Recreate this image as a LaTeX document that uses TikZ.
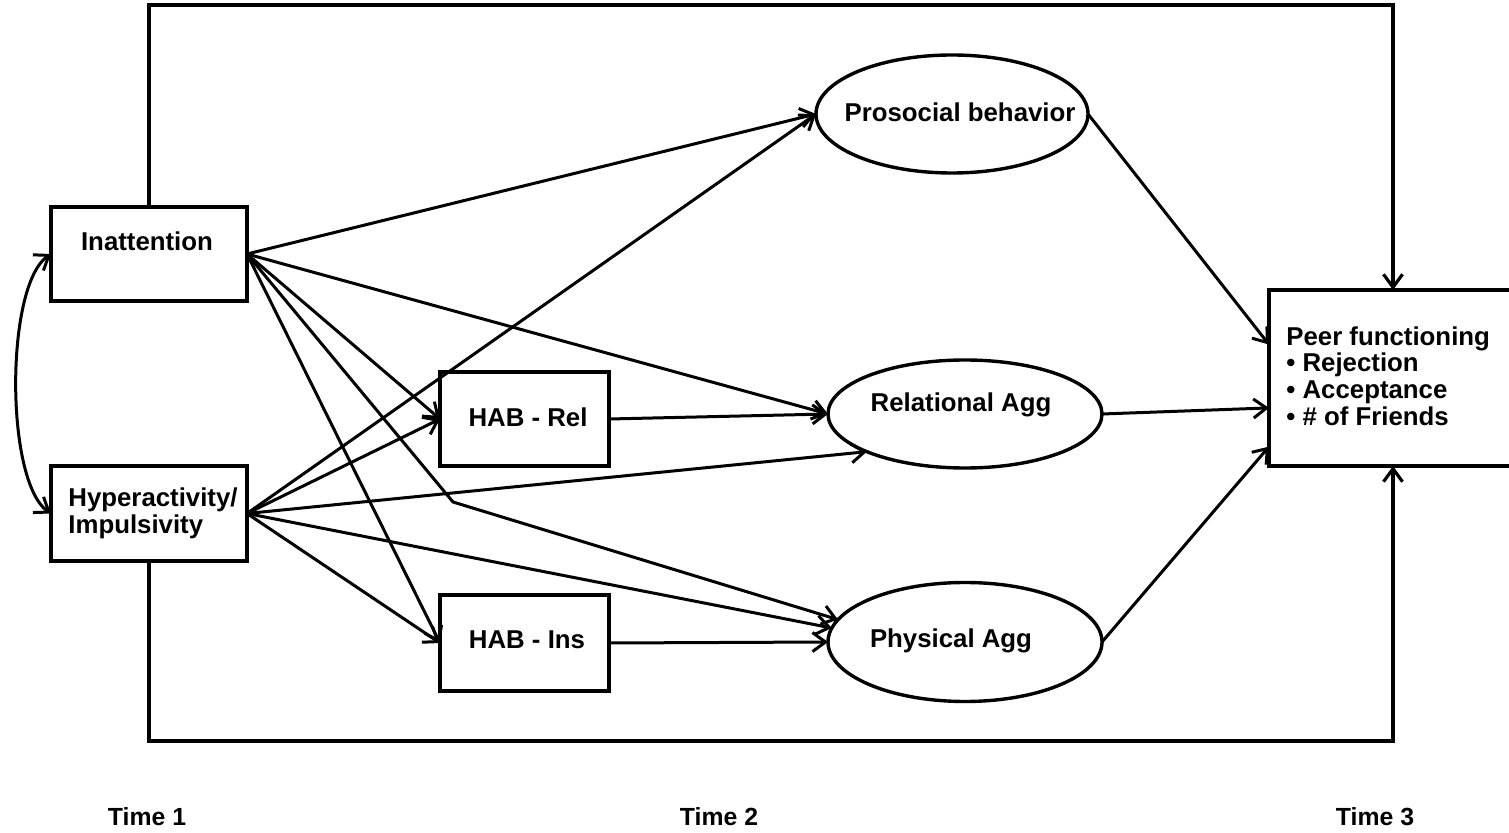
\documentclass[tikz,border=0pt]{standalone}
\usepackage{fontspec}
\setmainfont{Liberation Sans}
\usetikzlibrary{arrows.meta,shapes.geometric,calc}
\begin{document}
\begin{tikzpicture}[x=0.5pt,y=-0.5pt,
  box/.style={draw, line width=1.8pt, rectangle, inner sep=0pt, outer sep=0pt},
  ell/.style={draw, line width=1.7pt, ellipse, inner sep=0pt, outer sep=0pt},
  lbl/.style={font=\fontsize{12.9}{13.4}\selectfont\bfseries, inner sep=0pt},
  tlbl/.style={font=\fontsize{12.4}{13}\selectfont\bfseries, inner sep=0pt},
  arr/.style={line width=1.5pt, -{Straight Barb[length=6.5pt,width=9.5pt]}},
  dblarr/.style={line width=1.5pt, {Straight Barb[length=6.5pt,width=9.5pt]}-{Straight Barb[length=6.5pt,width=9.5pt]}},
  framearr/.style={line width=1.6pt, -{Straight Barb[length=6.5pt,width=9.5pt]}}]
\useasboundingbox (0,0) rectangle (1509,833);

% boxes
\node[box, minimum width=98pt, minimum height=47pt] (inatt) at (149,254) {};
\node[box, minimum width=98pt, minimum height=47.5pt] (hyp) at (149,513.5) {};
\node[box, minimum width=84.5pt, minimum height=47pt] (habrel) at (524.5,419) {};
\node[box, minimum width=84.5pt, minimum height=48pt] (habins) at (524.5,643) {};
\begin{scope}
\clip (0,0) rectangle (1509,833);
\node[box, minimum width=140pt, minimum height=88pt] (peer) at (1409,378) {};
\end{scope}

% ellipses
\node[ell, minimum width=136pt, minimum height=59pt] (pro) at (952,114) {};
\node[ell, minimum width=137pt, minimum height=54pt] (rel) at (965,414) {};
\node[ell, minimum width=137pt, minimum height=59.5pt] (phys) at (965,642) {};

% labels
\node[lbl] (inattT) at (147,241) {Inattention};
\node[lbl, align=left, anchor=west] (hypT) at (68,513) {Hyperactivity/\\Impulsivity};
\node[lbl] (habrelT) at (528,417) {HAB - Rel};
\node[lbl] (habinsT) at (527,640) {HAB - Ins};
\node[lbl] (proT) at (960,112) {Prosocial behavior};
\node[lbl] (relT) at (961,405) {Relational Agg};
\node[lbl] (physT) at (951,641) {Physical Agg};
\node[lbl, align=left, anchor=west] (peerT) at (1286,376) {Peer functioning\\• Rejection\\• Acceptance\\• \# of Friends};

\node[tlbl] (t1) at (147,817) {Time 1};
\node[tlbl] (t2) at (719,817) {Time 2};
\node[tlbl] (t3) at (1375,817) {Time 3};

% frame
\coordinate (ftop) at (1393,5);
\coordinate (fbot) at (1393,741);
\draw[framearr] (inatt.north) |- (ftop) -- (ftop |- peer.north);
\draw[framearr] (hyp.south) |- (fbot) -- (fbot |- peer.south);

% correlation
\draw[dblarr] (inatt.west) .. controls (5,285) and (5,482) .. (hyp.west);

% from Inattention
\coordinate (bend) at (453,502);
\draw[arr] (inatt.east) -- (pro.west);
\draw[arr] (inatt.east) -- (rel.west);
\draw[arr] (inatt.east) -- (habrel.west);
\draw[arr] (inatt.east) -- (bend) -- (phys.170);
\draw[arr] (inatt.east) -- (habins.west);

% from Hyperactivity
\draw[arr] (hyp.east) -- (pro.west);
\draw[arr] (hyp.east) -- (habrel.west);
\draw[arr] (hyp.east) -- (rel.201);
\draw[arr] (hyp.east) -- (phys.174);
\draw[arr] (hyp.east) -- (habins.west);

% mediators
\draw[arr] (habrel.east) -- (rel.west);
\draw[arr] (habins.east) -- (phys.west);

% to outcome
\draw[arr] (pro.east) -- ($(peer.north west)!0.31!(peer.south west)$);
\draw[arr] (rel.east) -- ($(peer.north west)!0.67!(peer.south west)$);
\draw[arr] (phys.east) -- ($(peer.north west)!0.89!(peer.south west)$);
\end{tikzpicture}
\end{document}
